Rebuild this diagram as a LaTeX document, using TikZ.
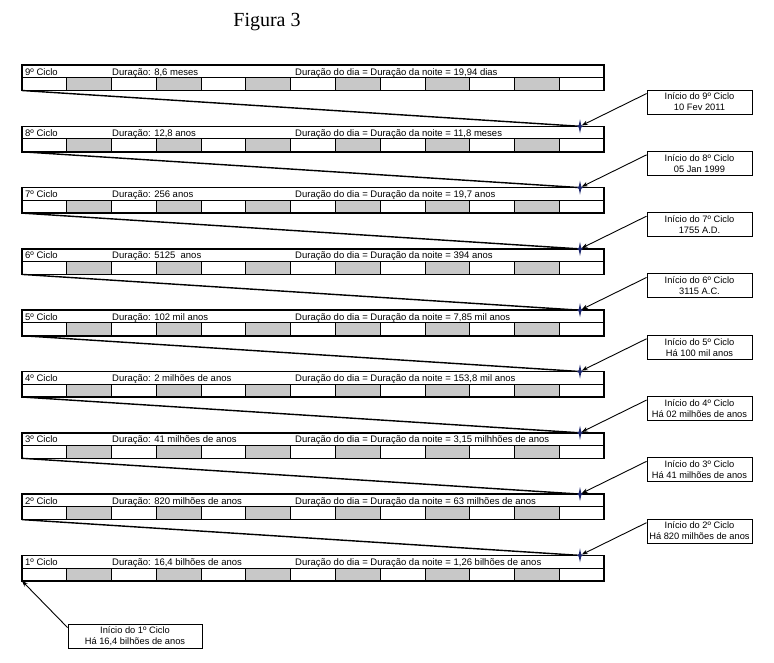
\documentclass[tikz,border=0pt]{standalone}
\usepackage{fontspec}
\setmainfont{Liberation Sans}
\newfontfamily\titlefont{Liberation Serif}
\usetikzlibrary{arrows.meta}

\definecolor{cellgray}{RGB}{200,200,200}
\definecolor{markblue}{RGB}{30,40,110}

\begin{document}
\begin{tikzpicture}[x=1pt,y=-1pt,
    barlabel/.style={anchor=base west,inner sep=0pt,font=\fontsize{9.5}{10}\selectfont},
    infobox/.style={draw,line width=0.9pt,minimum width=105pt,minimum height=24pt,
        inner sep=1pt,align=center,font=\fontsize{9.3}{11}\selectfont},
    pointer/.style={line width=0.9pt,-{Stealth[length=6pt,width=4.5pt]}},
    zoomline/.style={line width=1.4pt}]
    % white background, fixes the size of the page
    \useasboundingbox (0,0) rectangle (774,662);

    \node[font=\titlefont\fontsize{20}{24}\selectfont] (title) at (267,22) {Figura 3};

    % the nine cycles, top one first
    \foreach \cyc/\dur/\day [count=\row from 0] in {
        9/{8,6 meses}/{19,94 dias},
        8/{12,8 anos}/{11,8 meses},
        7/{256 anos}/{19,7 anos},
        6/{5125~ anos}/{394 anos},
        5/{102 mil anos}/{7,85 mil anos},
        4/{2 milhões de anos}/{153,8 mil anos},
        3/{41 milhões de anos}/{3,15 milhhões de anos},
        2/{820 milhões de anos}/{63 milhões de anos},
        1/{16,4 bilhões de anos}/{1,26 bilhões de anos}}
    {
        \pgfmathsetmacro\ytop{65+61.3*\row}
        \foreach \c in {1,3,...,11}
            \fill[cellgray] ({22+44.77*\c},\ytop+12.5) rectangle ({22+44.77*(\c+1)},\ytop+25.5);
        \draw[line width=0.8pt] (22,\ytop+12.5) -- (604,\ytop+12.5);
        \foreach \c in {1,...,12}
            \draw[line width=0.8pt] ({22+44.77*\c},\ytop+12.5) -- ++(0,13);
        \draw[line width=1.6pt] (22,\ytop) rectangle (604,\ytop+25.5);
        \node[barlabel] (c\row) at (25,\ytop+10) {{\cyc}º Ciclo};
        \node[barlabel] (d\row) at (112,\ytop+10) {Duração: \dur};
        \node[barlabel] (n\row) at (295,\ytop+10) {Duração do dia = Duração da noite = \day};
        \coordinate (sw\row) at (22,\ytop+25.5);
        \coordinate (m\row) at (580,\ytop);
    }

    % lines from each cycle to the start of the next one
    \foreach \a/\b in {0/1,1/2,2/3,3/4,4/5,5/6,6/7,7/8}
        \draw[zoomline] (sw\a) -- (m\b);

    % start marks
    \foreach \row in {1,...,8}
        \fill[markblue] (m\row) +(0,-7) -- +(1.2,-1.2) -- +(3,0) -- +(1.2,1.2) -- +(0,7)
            -- +(-1.2,1.2) -- +(-3,0) -- +(-1.2,-1.2) -- cycle;

    % boxes on the right
    \foreach \what/\when [count=\row from 0] in {
        9/{10 Fev 2011},
        8/{05 Jan 1999},
        7/{1755 A.D.},
        6/{3115 A.C.},
        5/{Há 100 mil anos},
        4/{Há 02 milhões de anos},
        3/{Há 41 milhões de anos},
        2/{Há 820 milhões de anos}}
    {
        \pgfmathsetmacro\ytop{65+61.3*\row}
        \pgfmathtruncatemacro\nxt{\row+1}
        \node[infobox] (i\row) at (699.5,\ytop+37) {Início do {\what}º Ciclo\\\when};
        \draw[pointer,shorten >=2pt] ([yshift=-4pt]i\row.north west) -- (m\nxt);
    }

    % box for the first cycle
    \node[infobox,minimum width=134pt] (i8) at (135,636) {Início do 1º Ciclo\\Há 16,4 bilhões de anos};
    \draw[pointer] ([yshift=-4pt]i8.north west) -- (sw8);
\end{tikzpicture}
\end{document}
